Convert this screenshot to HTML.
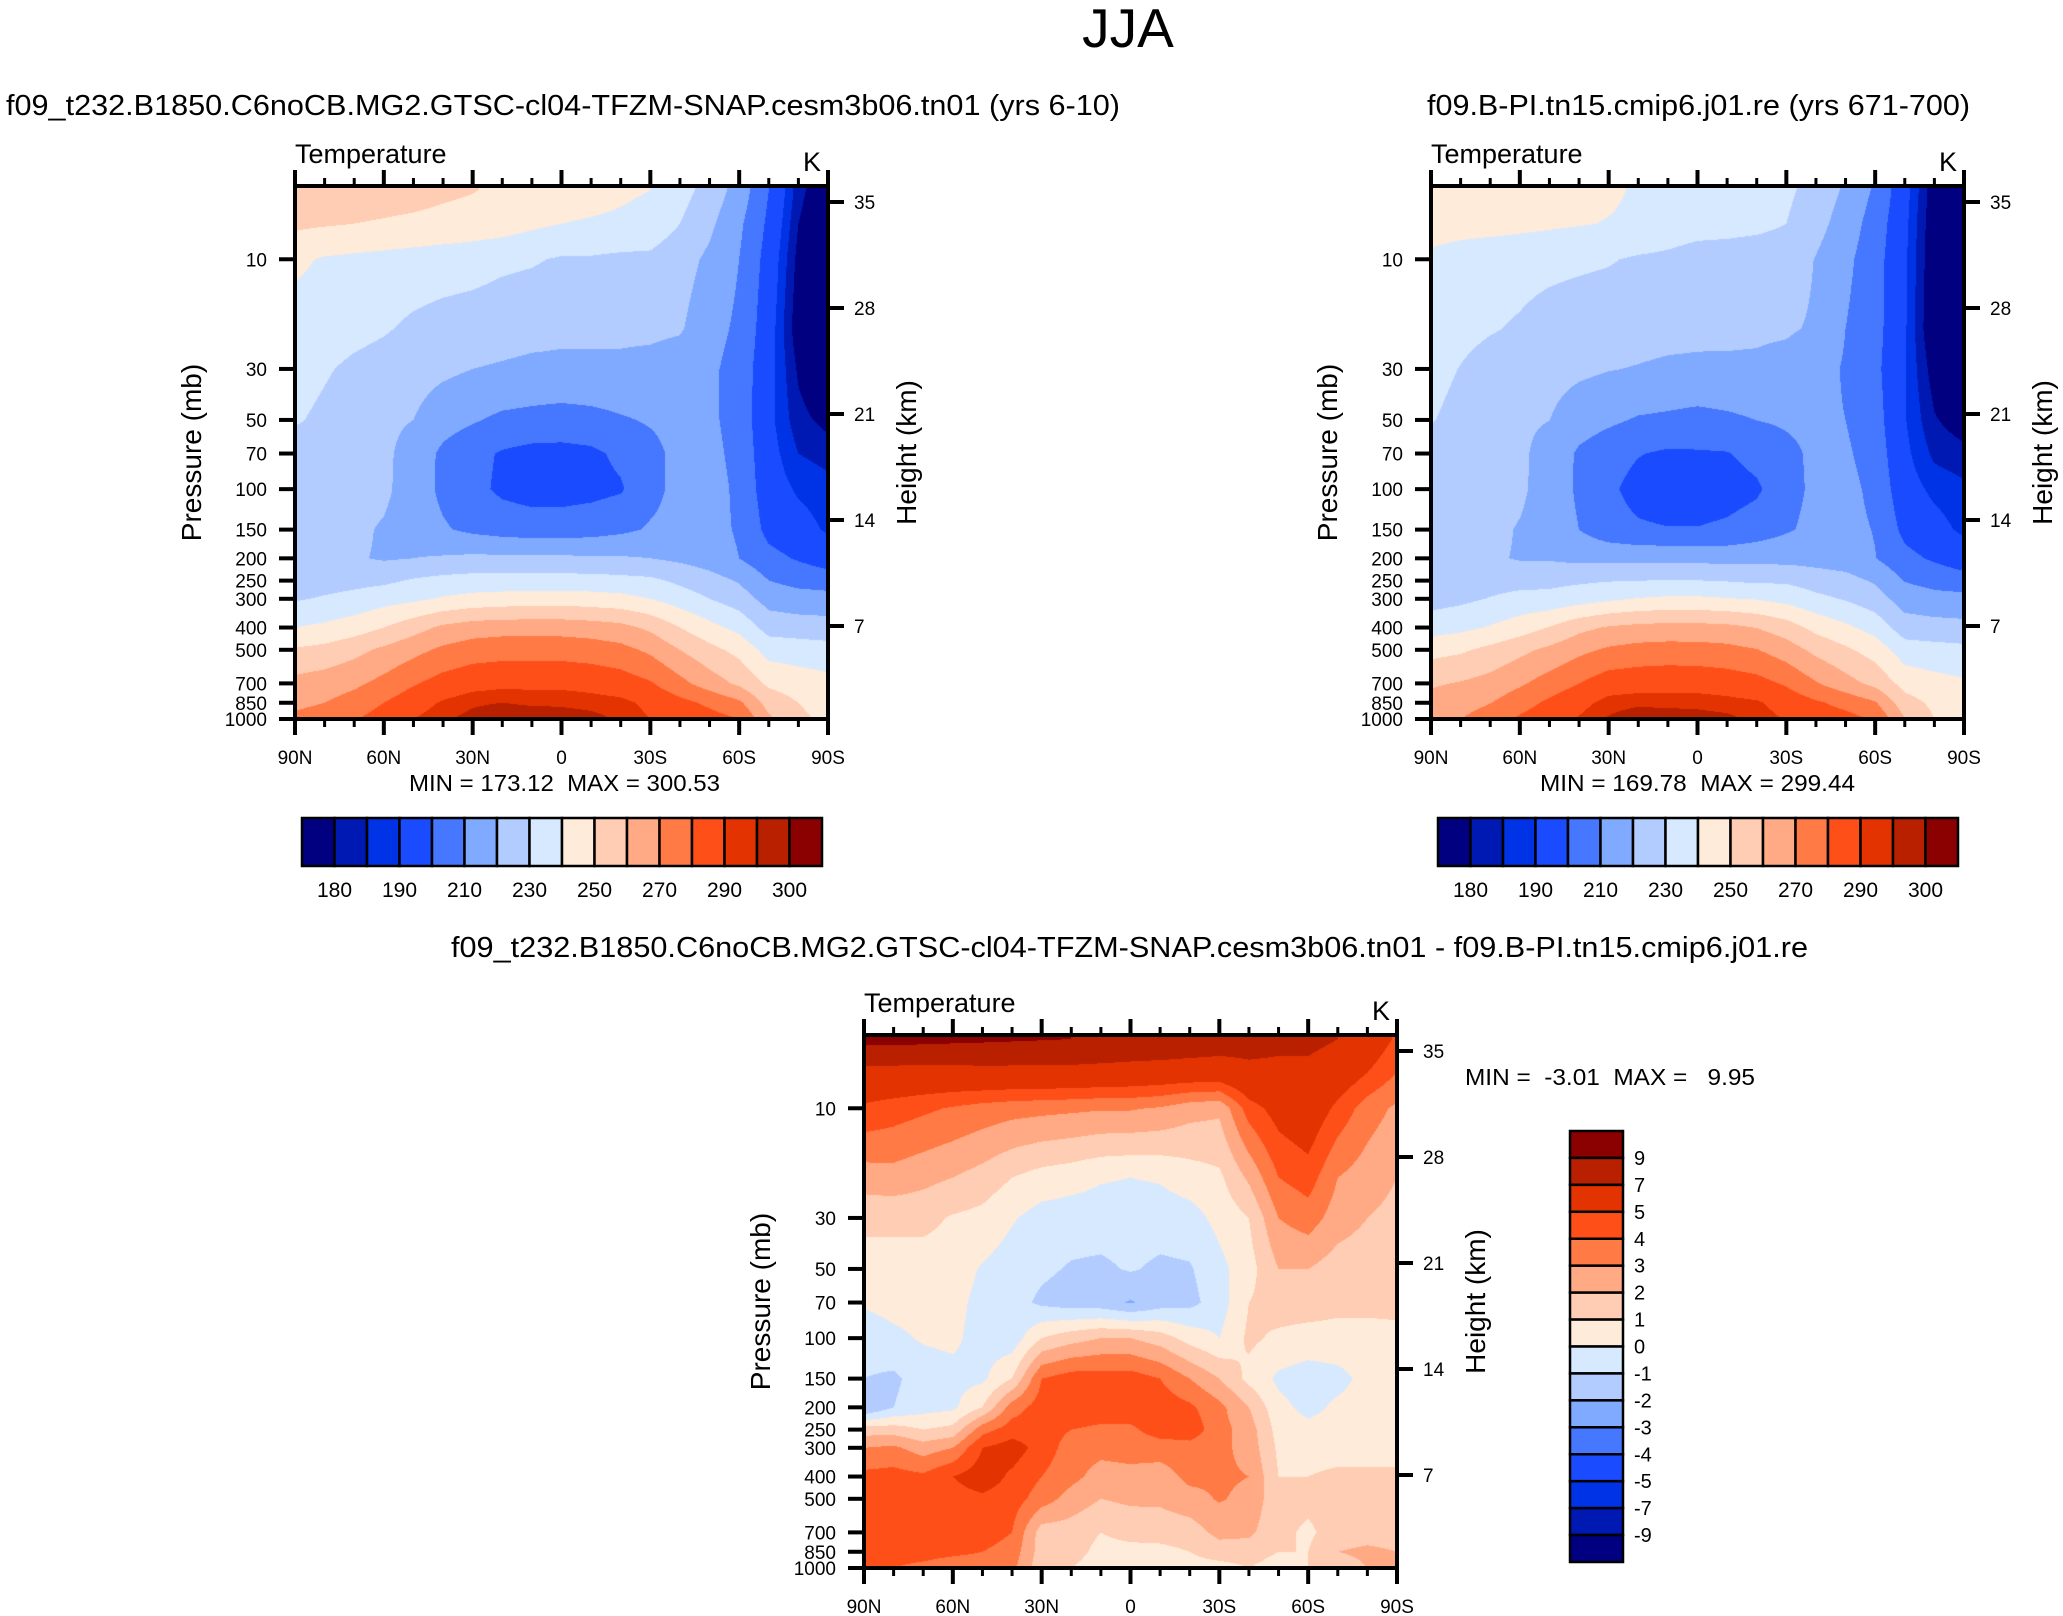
<!DOCTYPE html>
<html><head><meta charset="utf-8">
<style>
html,body{margin:0;padding:0;background:#fff;}
#wrap{position:relative;width:2063px;height:1616px;overflow:hidden;background:#fff;}
canvas{position:absolute;}
svg{position:absolute;left:0;top:0;}
text{font-family:"Liberation Sans",Arial,sans-serif;fill:#000;white-space:pre;}
</style></head>
<body>
<div id="wrap">
<canvas id="c1" width="533" height="533" style="left:295px;top:186px"></canvas>
<canvas id="c2" width="533" height="533" style="left:1431px;top:186px"></canvas>
<canvas id="c3" width="533" height="533" style="left:864px;top:1035px"></canvas>
<svg id="svg" width="2063" height="1616">
<text x="1128" y="47" font-size="55" text-anchor="middle">JJA</text>
<text x="6" y="115" font-size="29" textLength="1114" lengthAdjust="spacingAndGlyphs">f09_t232.B1850.C6noCB.MG2.GTSC-cl04-TFZM-SNAP.cesm3b06.tn01 (yrs 6-10)</text>
<text x="1427" y="115" font-size="29" textLength="543" lengthAdjust="spacingAndGlyphs">f09.B-PI.tn15.cmip6.j01.re (yrs 671-700)</text>
<text x="451" y="957" font-size="29" textLength="1357" lengthAdjust="spacingAndGlyphs">f09_t232.B1850.C6noCB.MG2.GTSC-cl04-TFZM-SNAP.cesm3b06.tn01 - f09.B-PI.tn15.cmip6.j01.re</text>
<text x="409" y="791" font-size="23" textLength="311" lengthAdjust="spacingAndGlyphs" xml:space="preserve">MIN = 173.12  MAX = 300.53</text>
<text x="1540" y="791" font-size="23" textLength="315" lengthAdjust="spacingAndGlyphs" xml:space="preserve">MIN = 169.78  MAX = 299.44</text>
<text x="1465" y="1085" font-size="23" textLength="290" lengthAdjust="spacingAndGlyphs" xml:space="preserve">MIN =  -3.01  MAX =   9.95</text>
<g id="axes"></g>
</svg>
</div>
<script>
// ---- data ----
const lats = [90,80,70,60,50,40,30,20,10,0,-10,-20,-30,-40,-50,-60,-70,-80,-90];
const levels = [5,7,10,20,30,50,70,100,150,200,250,300,400,500,700,850,1000];
// Model temperature (K), rows = levels, cols = lats (90N..90S)
const tempModel = [
 [258,257,256,255,254,252,250.5,248,246,245,244,242,240,234,226,216,200,182,174],
 [252,251,250,249,248,247,246,245,242,240,239,238,236,230,222,212,198,180,173],
 [242,239,238,237,236,235,234,232,231,229,229,228,228,224,218,210,196,178,172],
 [236,235,233,231,228,226,225,224,223,222,222,222,222,221,214,208,194,176,171],
 [234,231,228,226,224,222,220,219,218,218,218,218,217,215,212,206,193,179,172],
 [231,228,225,222,220,214,211,208,207,206,207,209,211,213,212,206,192,182,178],
 [226,225,224,222,216,208,203,199,197,197,198,202,207,213,213,207,193,185,183],
 [225,224,224,222,215,208,203,198,196,196,197,199,207,213,214,208,194,189,187],
 [223,222,222,219,215,211,208,206,205,205,206,208,211,213,213,209,197,193,189],
 [224,223,221,219,220,221,222,222,222,222,221,221,220,218,215,210,203,199,195],
 [225,226,227,228,231,233,234,234,234,234,234,233,232,228,224,219,210,207,205],
 [229,231,233,236,238,241,243,244,245,245,244,243,240,235,230,225,216,214,214],
 [240,242,245,250,256,262,265,266,266,266,265,263,258,250,243,237,226,225,224],
 [251,253,257,262,267,272,275,276,276,276,275,273,268,260,253,247,236,235,234],
 [263,265,268,273,279,284,287,288,288,288,287,285,281,273,265,258,248,245,243],
 [268,270,274,280,286,291,294,295,294,294,293,292,288,283,278,272,256,250,246],
 [272,274,279,285,290,294,297,300,299,298,297,294,290,286,284,280,262,252,248]
];
// Difference model - control (K)
const tempDiff = [
 [9.6,9.6,9.5,9.4,9.3,9.2,9.1,9.0,8.8,8.6,8.5,8.3,8.0,7.8,7.5,7.5,7.0,6.0,4.8],
 [6.3,6.3,6.3,6.3,6.4,6.4,6.4,6.4,6.3,6.2,6.1,6.0,6.0,6.5,6.5,6.5,6.0,5.0,4.0],
 [4.8,4.5,4.2,3.9,3.6,3.4,3.3,3.2,3.1,3.1,2.9,2.4,2.2,4.5,5.5,6.0,4.7,3.5,2.8],
 [2.5,2.6,2.3,2.0,1.6,1.0,0.6,0.4,0.1,0.0,0.1,0.5,0.8,2.2,4.0,4.5,3.0,2.5,2.0],
 [1.3,1.3,1.3,0.9,0.7,0.1,-0.4,-0.5,-0.5,-0.5,-0.5,-0.4,0.3,1.0,3.0,3.5,2.5,2.0,1.7],
 [0.5,0.5,0.5,0.5,-0.1,-0.5,-0.8,-1.1,-1.2,-0.9,-1.2,-1.1,-0.3,0.6,2.0,2.0,1.5,1.4,1.4],
 [0.1,0.3,0.3,0.3,-0.3,-0.6,-1.2,-1.5,-1.6,-2.1,-1.5,-1.3,-0.5,1.0,1.5,1.5,1.3,1.3,1.3],
 [-0.5,-0.2,0.1,0.2,-0.4,-0.6,1.0,1.6,2.0,2.0,1.5,0.6,0.0,1.2,0.8,0.6,0.6,0.6,0.7],
 [-1.0,-1.2,-0.5,-0.3,-0.2,1.0,4.0,4.5,4.5,4.5,4.0,3.0,2.0,0.7,-0.2,-0.5,-0.3,0.3,0.5],
 [-2.1,-1.0,-0.4,-0.2,1.0,3.5,4.5,4.7,4.6,4.6,4.6,4.2,3.3,2.0,0.3,-0.3,0.2,0.4,0.6],
 [1.5,1.5,1.0,1.3,3.6,4.5,4.5,4.0,3.8,3.8,4.5,4.6,3.4,2.5,0.6,0.3,0.4,0.5,0.7],
 [3.0,3.2,2.5,3.0,5.0,5.5,4.6,3.5,3.3,3.4,3.5,3.6,3.3,2.6,0.8,0.6,0.6,0.6,0.8],
 [4.3,4.4,4.2,5.0,5.6,4.8,4.0,3.3,2.6,2.7,2.5,3.3,3.2,3.0,1.0,1.0,1.2,1.2,1.1],
 [4.5,4.5,4.5,4.6,4.8,4.5,3.5,2.6,2.0,2.2,2.2,2.6,3.1,2.7,1.3,1.3,1.4,1.5,1.4],
 [4.3,4.3,4.4,4.5,4.5,4.0,1.5,1.5,1.0,1.3,1.4,1.5,2.3,2.2,1.3,0.8,1.5,1.6,1.6],
 [4.3,4.3,4.3,4.2,4.0,3.6,1.5,1.4,0.7,0.7,0.7,1.0,1.5,1.5,1.0,1.0,2.0,2.2,2.0],
 [4.2,4.0,3.8,3.5,3.5,3.3,1.3,1.0,0.5,0.5,0.5,0.6,0.6,1.0,0.5,1.0,1.5,2.0,2.0]
];
const tempLevels = [180,185,190,200,210,220,230,240,250,260,270,280,290,295,300];
const diffLevels = [-9,-7,-5,-4,-3,-2,-1,0,1,2,3,4,5,7,9];
const tempCbLabels = ['180','190','210','230','250','270','290','300'];
const diffCbLabels = ['9','7','5','4','3','2','1','0','-1','-2','-3','-4','-5','-7','-9'];
const pTicks = [10,30,50,70,100,150,200,250,300,400,500,700,850,1000];
const zTicks = [35,28,21,14,7];
const latTicks = [90,60,30,0,-30,-60,-90];
const latTickLabels = ['90N','60N','30N','0','30S','60S','90S'];
const palette = ['#000080','#0019b3','#0033e6','#1a4bff','#4577ff','#80aaff','#b3ccff','#d7e9ff','#ffebd9','#ffcdb3','#ffaa85','#ff7a45','#ff4f19','#e33300','#b82000','#8b0000'];

// control = model - diff
const tempControl = tempModel.map((row,i)=>row.map((v,j)=>v - tempDiff[i][j]));

// ---- scales ----
const PW = 533, PH = 533, PTOP = 4.8, PBOT = 1000;
const logTop = Math.log10(PTOP), logBot = Math.log10(PBOT);
function yOfP(p){ return (Math.log10(p)-logTop)/(logBot-logTop)*PH; }
function xOfLat(l){ return (90-l)/180*PW; }
function yOfZ(z){ return 16 + (35-z)*106/7; }
const logLev = levels.map(Math.log10);

function sample(field, lat, lp){
  let fi = (90-lat)/10; fi = Math.max(0,Math.min(18,fi));
  const i0 = Math.min(17,Math.floor(fi)), fx = fi-i0;
  let k = 0;
  if (lp <= logLev[0]) { lp = logLev[0]; }
  while (k < logLev.length-2 && lp > logLev[k+1]) k++;
  const fy = Math.max(0,Math.min(1,(lp-logLev[k])/(logLev[k+1]-logLev[k])));
  const a = field[k][i0], b = field[k][i0+1], c = field[k+1][i0], d = field[k+1][i0+1];
  return (a*(1-fx)+b*fx)*(1-fy) + (c*(1-fx)+d*fx)*fy;
}
function hexRgb(h){ return [parseInt(h.substr(1,2),16),parseInt(h.substr(3,2),16),parseInt(h.substr(5,2),16)]; }
const palRgb = palette.map(hexRgb);
function classify(v, lev){ let n=0; for (const t of lev) if (v>=t) n++; return n; }

function drawField(id, field, lev){
  const cv = document.getElementById(id), ctx = cv.getContext('2d');
  const img = ctx.createImageData(PW, PH);
  for (let py=0; py<PH; py++){
    const lp = logTop + (py+0.5)/PH*(logBot-logTop);
    for (let px=0; px<PW; px++){
      const lat = 90 - (px+0.5)/PW*180;
      const c = palRgb[classify(sample(field,lat,lp), lev)];
      const o = (py*PW+px)*4;
      img.data[o]=c[0]; img.data[o+1]=c[1]; img.data[o+2]=c[2]; img.data[o+3]=255;
    }
  }
  ctx.putImageData(img,0,0);
}
drawField('c1', tempModel, tempLevels);
drawField('c2', tempControl, tempLevels);
drawField('c3', tempDiff, diffLevels);

// ---- axes ----
const NS='http://www.w3.org/2000/svg';
const axes = document.getElementById('axes');
function mk(tag, attrs, parent){ const e=document.createElementNS(NS,tag); for (const k in attrs) e.setAttribute(k,attrs[k]); (parent||axes).appendChild(e); return e; }

function drawAxes(ox, oy, tag){
  const g = mk('g',{});
  
  
  const frame = mk('rect',{x:ox,y:oy,width:PW,height:PH,fill:'none',stroke:'#000','stroke-width':4},g);
  
  
  for (let l=90; l>=-90; l-=10){
    const major = (l%30===0);
    const x = ox + xOfLat(l);
    const len = major?16:8;
    const t1 = mk('line',{x1:x,y1:oy+PH,x2:x,y2:oy+PH+len,stroke:'#000','stroke-width':major?4:3},g);
    
    
    const t2 = mk('line',{x1:x,y1:oy,x2:x,y2:oy-len,stroke:'#000','stroke-width':major?4:3},g);
    
    
  }
  latTicks.forEach((l,i)=>{
    const t = mk('text',{x:ox+xOfLat(l),y:oy+PH+45,'font-size':19,'text-anchor':'middle'},g);
    t.textContent = latTickLabels[i];
    
    
  });
  pTicks.forEach(p=>{
    const y = oy + yOfP(p);
    const tk = mk('line',{x1:ox-16,y1:y,x2:ox,y2:y,stroke:'#000','stroke-width':4},g);
    
    
    const t = mk('text',{x:ox-28,y:y+7,'font-size':19,'text-anchor':'end'},g);
    t.textContent = String(p);
    
    
  });
  zTicks.forEach(z=>{
    const y = oy + yOfZ(z);
    const tk = mk('line',{x1:ox+PW,y1:y,x2:ox+PW+16,y2:y,stroke:'#000','stroke-width':4},g);
    
    
    const t = mk('text',{x:ox+PW+26,y:y+7,'font-size':19},g);
    t.textContent = String(z);
    
    
  });
  const tt = mk('text',{x:ox,y:oy-23,'font-size':27},g);
  tt.textContent = 'Temperature';
  
  
  const ku = mk('text',{x:ox+PW-7,y:oy-15,'font-size':27,'text-anchor':'end'},g);
  ku.textContent = 'K';
  
  
  const yt = mk('text',{x:0,y:0,'font-size':28,'text-anchor':'middle',transform:`translate(${ox-94},${oy+PH/2}) rotate(-90)`},g);
  yt.textContent = 'Pressure (mb)';
  
  
  const ht = mk('text',{x:0,y:0,'font-size':28,'text-anchor':'middle',transform:`translate(${ox+PW+88},${oy+PH/2}) rotate(-90)`},g);
  ht.textContent = 'Height (km)';
  
  
}
drawAxes(295,186,'panel1');
drawAxes(1431,186,'panel2');
drawAxes(864,1035,'panel3');

function hColorbar(ox, oy, tag){
  const g = mk('g',{});
  
  
  const bw = 520/16;
  palette.forEach((c,i)=>{
    const r = mk('rect',{x:ox+i*bw,y:oy,width:bw,height:48,fill:c,stroke:'#000','stroke-width':2.5},g);
    
    
  });
  tempCbLabels.forEach((s,i)=>{
    const t = mk('text',{x:ox+(2*i+1)*bw,y:oy+79,'font-size':21,'text-anchor':'middle'},g);
    t.textContent = s;
    
    
  });
}
hColorbar(302,818,'panel1');
hColorbar(1438,818,'panel2');

(function(){
  const ox=1570, oy=1131, bh=431/16;
  const g = mk('g',{});
  
  
  palette.slice().reverse().forEach((c,i)=>{
    const r = mk('rect',{x:ox,y:oy+i*bh,width:53,height:bh,fill:c,stroke:'#000','stroke-width':2.5},g);
    
    
  });
  diffCbLabels.forEach((s,i)=>{
    const t = mk('text',{x:ox+64,y:oy+(i+1)*bh+7,'font-size':20},g);
    t.textContent = s;
    
    
  });
})();
</script>
</body></html>
